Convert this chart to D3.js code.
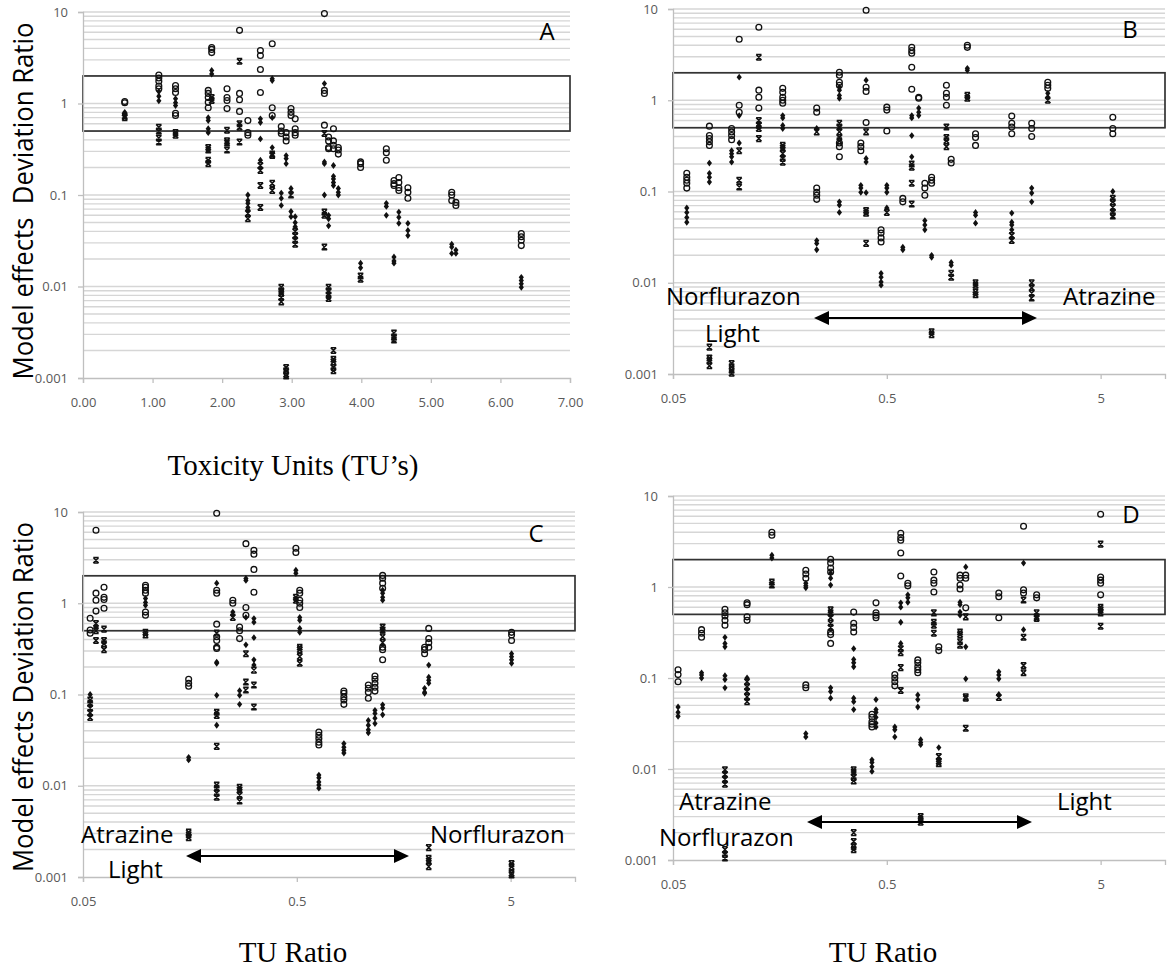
<!DOCTYPE html>
<html><head><meta charset="utf-8">
<script src="https://cdn.jsdelivr.net/npm/d3@7"></script>
<style>body{margin:0;background:#fff}svg{display:block}</style>
</head><body>
<svg id="chart" width="1176" height="968"></svg>
<script>
// ---------- DATA ----------
const yTicks = [0.001, 0.01, 0.1, 1, 10];
const yTickLabels = ["0.001", "0.01", "0.1", "1", "10"];
const xTicksTU = [0, 1, 2, 3, 4, 5, 6, 7];
const xTickLabelsTU = ["0.00", "1.00", "2.00", "3.00", "4.00", "5.00", "6.00", "7.00"];
const xTicksRatio = [0.05, 0.5, 5];
const xTickLabelsRatio = ["0.05", "0.5", "5"];
const bandLimits = [0.5, 2];

// each entry: [x, [y values]]
const circlesA = [[0.60,[1.05,1.02]],[1.09,[2.05,1.9,1.75,1.55,1.45]],[1.33,[1.57,1.45,1.32,0.78,0.74]],[1.80,[1.39,1.29,1.16,1.03,0.90]],[1.85,[4.1,3.9,3.6]],[2.07,[1.45,1.16,1.08,0.88]],[2.25,[6.3,1.29,1.1,0.82]],[2.37,[0.65,0.48,0.45]],[2.55,[3.8,3.35,2.35,1.32]],[2.72,[4.5,0.9,0.74]],[2.85,[0.56,0.5,0.47]],[2.92,[0.48,0.43,0.39]],[2.99,[0.88,0.8,0.74]],[3.05,[0.68,0.53,0.48,0.45]],[3.47,[9.6,1.39,1.29,0.58]],[3.53,[0.43,0.39,0.33,0.32]],[3.60,[0.53,0.39,0.35,0.32]],[3.67,[0.33,0.31,0.28]],[3.99,[0.23,0.22,0.20]],[4.36,[0.32,0.29,0.24]],[4.47,[0.144,0.133,0.127]],[4.54,[0.155,0.137,0.12,0.112]],[4.67,[0.12,0.107,0.092]],[5.30,[0.107,0.1,0.087]],[5.36,[0.083,0.077]],[6.30,[0.038,0.035,0.032,0.028]]];
const diamondsA = [[0.60,[0.80,0.76]],[1.09,[1.35,1.2,1.07]],[1.33,[1.13,1.02,0.95]],[1.80,[0.70,0.65,0.53,0.48]],[1.85,[2.3,2.1]],[2.25,[0.58]],[2.37,[0.1,0.087,0.081,0.073,0.068]],[2.55,[0.68,0.62,0.41,0.24]],[2.72,[1.87,1.78,0.7,0.33]],[2.85,[0.105,0.092,0.077]],[2.92,[0.27,0.25,0.22]],[2.99,[0.118,0.107,0.066,0.058]],[3.05,[0.058,0.05,0.045]],[3.47,[1.65,0.23,0.22,0.1]],[3.53,[0.06,0.055,0.046]],[3.60,[0.21,0.16,0.15,0.137,0.127]],[3.67,[0.118,0.107,0.10]],[3.99,[0.018,0.016]],[4.36,[0.081,0.075,0.06]],[4.47,[0.021,0.019,0.018]],[4.54,[0.065,0.057,0.049]],[4.67,[0.049,0.041,0.036]],[5.30,[0.029,0.027,0.023]],[5.36,[0.025,0.023]],[6.30,[0.0126,0.0116,0.0107,0.0098]]];
const starsA = [[0.60,[0.73,0.70]],[1.09,[0.55,0.5,0.42,0.38]],[1.33,[0.48,0.45]],[1.80,[0.33,0.31,0.24,0.22]],[1.85,[1.16,1.08]],[2.07,[0.51,0.39,0.37,0.31]],[2.25,[2.9,0.6,0.55,0.38]],[2.37,[0.063,0.055]],[2.55,[0.21,0.185,0.127,0.073]],[2.72,[0.28,0.27,0.134,0.112]],[2.85,[0.0098,0.009,0.0084,0.0076,0.0068]],[2.92,[0.0013,0.0012,0.0011,0.00105]],[2.99,[0.10]],[3.05,[0.04,0.036,0.032,0.029]],[3.47,[0.47,0.065,0.06,0.027]],[3.53,[0.0098,0.009,0.008,0.0074]],[3.60,[0.002,0.0016,0.0015,0.0013,0.0012]],[3.99,[0.013,0.012]],[4.47,[0.0031,0.0028,0.0026]]];

const circlesB = [[0.058,[0.158,0.143,0.133,0.123,0.109]],[0.074,[0.52,0.41,0.38,0.35,0.32]],[0.094,[0.49,0.45,0.41,0.37]],[0.102,[4.66,0.88,0.74]],[0.126,[6.3,1.29,1.08,0.82]],[0.163,[1.35,1.22,1.08,1.0,0.93]],[0.235,[0.82,0.74,0.109,0.098,0.091,0.082]],[0.30,[2.03,1.88,1.57,1.46,0.34,0.31,0.24]],[0.378,[0.34,0.31,0.28]],[0.40,[9.7,1.39,1.25,0.57]],[0.47,[0.038,0.035,0.031,0.028]],[0.50,[0.84,0.78,0.46]],[0.594,[0.084,0.077]],[0.654,[3.8,3.5,3.27,2.3,1.32]],[0.705,[1.08,1.05]],[0.753,[0.123,0.109,0.091]],[0.81,[0.143,0.133,0.123]],[0.95,[1.46,1.19,1.08,0.88]],[1.0,[0.225,0.205]],[1.19,[4.0,3.8]],[1.3,[0.43,0.39,0.32]],[1.92,[0.67,0.56,0.51,0.43]],[2.38,[0.56,0.49,0.40]],[2.83,[1.57,1.46,1.35]],[5.7,[0.65,0.49,0.43]]];
const diamondsB = [[0.058,[0.066,0.059,0.052,0.046]],[0.074,[0.205,0.158,0.143,0.127]],[0.094,[0.28,0.26,0.24,0.21]],[0.102,[1.79,0.68,0.34]],[0.163,[0.68,0.64,0.53,0.49]],[0.235,[0.49,0.029,0.027,0.023]],[0.30,[1.39,1.29,1.13,1.05,0.077,0.071,0.059]],[0.378,[0.117,0.109,0.098]],[0.40,[1.66,0.23,0.21,0.097]],[0.47,[0.0127,0.0115,0.0102,0.0094]],[0.50,[0.117,0.109,0.098,0.066]],[0.594,[0.0245,0.023]],[0.654,[0.68,0.64,0.41,0.24]],[0.705,[0.82,0.74,0.68]],[0.753,[0.048,0.043,0.038]],[0.81,[0.02,0.019]],[1.0,[0.0167,0.0156]],[1.19,[2.24,2.13]],[1.3,[0.059,0.055,0.045]],[1.92,[0.058,0.046,0.043,0.038]],[2.38,[0.109,0.096,0.077]],[2.83,[1.19,1.08]],[5.7,[0.1]]];
const starsB = [[0.074,[0.00197,0.0015,0.0014,0.00123]],[0.094,[0.0013,0.0012,0.0011,0.00102]],[0.102,[0.28,0.133,0.112]],[0.126,[2.96,0.6,0.53,0.49,0.38]],[0.163,[0.32,0.30,0.26,0.23,0.21]],[0.235,[0.45]],[0.30,[0.56,0.51,0.45,0.39,0.36]],[0.40,[0.45,0.062,0.058,0.027]],[0.50,[0.059]],[0.654,[0.2,0.185,0.123,0.073]],[0.81,[0.0029,0.0027]],[0.95,[0.51,0.39,0.36,0.31]],[1.0,[0.0127,0.0115]],[1.19,[1.13,1.05]],[1.3,[0.01,0.0094,0.0079,0.0074]],[1.92,[0.033,0.029]],[2.38,[0.01,0.0088,0.0077,0.0068]],[2.83,[1.0]],[5.7,[0.084,0.077,0.067,0.059,0.054]]];

const circlesC = [[0.054,[0.685,0.51,0.47]],[0.0575,[6.3,1.29,1.08,0.82]],[0.0627,[1.5,1.16,1.1,0.88]],[0.098,[1.57,1.5,1.39,1.29,0.8,0.74]],[0.156,[0.147,0.133,0.123]],[0.211,[9.7,1.39,1.29,0.59,0.43,0.39,0.33,0.32]],[0.251,[1.08,1.0]],[0.27,[0.55,0.5,0.41]],[0.289,[4.5,0.9,0.74]],[0.315,[3.8,3.45,2.35,1.32]],[0.495,[4.0,3.6]],[0.516,[1.39,1.29,1.08,1.0,0.9]],[0.634,[0.0387,0.0358,0.033,0.030,0.028]],[0.83,[0.109,0.103,0.094,0.087,0.078]],[1.08,[0.127,0.117,0.106,0.091]],[1.16,[0.159,0.147,0.133,0.12,0.109]],[1.26,[2.02,1.88,1.66,1.46,0.33,0.31,0.24]],[1.98,[0.33,0.31,0.28]],[2.07,[0.53,0.41,0.37,0.33]],[5.05,[0.48,0.45,0.39]]];
const diamondsC = [[0.054,[0.1]],[0.0575,[0.55]],[0.098,[1.13,1.02,0.95]],[0.156,[0.0205,0.0192]],[0.211,[1.66,0.226,0.22,0.098,0.046]],[0.251,[0.8,0.74]],[0.27,[0.11,0.098,0.078]],[0.289,[1.87,1.78,0.7,0.35]],[0.315,[0.68,0.62,0.42,0.24,0.21]],[0.495,[2.3,2.13]],[0.516,[0.7,0.65,0.53,0.48]],[0.634,[0.0131,0.0122,0.011,0.0102,0.0094]],[0.83,[0.029,0.0265,0.0245,0.0228]],[1.08,[0.052,0.046,0.041,0.038]],[1.16,[0.067,0.062,0.055,0.048]],[1.26,[1.39,1.29,1.16,1.08,0.077,0.071,0.06]],[1.98,[0.117,0.106,0.103]],[2.07,[0.21,0.155,0.143,0.133]],[5.05,[0.28,0.26,0.24,0.22]]];
const starsC = [[0.054,[0.087,0.08,0.071,0.063,0.056]],[0.0575,[2.96,0.6,0.5,0.39]],[0.0627,[0.52,0.39,0.36,0.31]],[0.098,[0.48,0.45]],[0.156,[0.0031,0.0029,0.0027]],[0.211,[0.47,0.064,0.059,0.027,0.0102,0.0094,0.0083,0.0075]],[0.251,[0.7]],[0.27,[0.0096,0.009,0.0079,0.0068]],[0.289,[0.28,0.137,0.112]],[0.315,[0.185,0.127,0.073]],[0.495,[1.16,1.08]],[0.516,[0.33,0.31,0.26,0.22]],[1.26,[0.55,0.51,0.43,0.37]],[2.07,[0.0021,0.0016,0.0015,0.0013]],[5.05,[0.0014,0.0013,0.0011,0.00105]]];

const circlesD = [[0.0528,[0.123,0.109,0.091]],[0.068,[0.34,0.31,0.28]],[0.0875,[0.57,0.52,0.48,0.43,0.38]],[0.111,[0.67,0.64,0.47,0.43]],[0.145,[4.0,3.7]],[0.209,[1.53,1.39,1.25,0.084,0.078]],[0.273,[2.02,1.83,1.62,1.46,0.32,0.30,0.24]],[0.35,[0.53,0.4,0.36,0.32]],[0.426,[0.04,0.037,0.033,0.031,0.029]],[0.445,[0.67,0.52,0.49,0.46]],[0.545,[0.109,0.1,0.091,0.082]],[0.581,[3.9,3.5,3.27,2.36,1.32]],[0.627,[1.1,1.03]],[0.698,[0.158,0.147,0.133,0.123,0.114]],[0.83,[1.46,1.19,1.1,0.88]],[0.875,[0.22,0.2]],[1.1,[1.35,1.25,1.05,0.95]],[1.17,[1.35,1.25,0.59]],[1.67,[0.86,0.78,0.46]],[2.18,[4.66,0.93,0.86]],[2.51,[0.82,0.76]],[5.0,[6.3,1.29,1.19,1.1,0.82]]];
const diamondsD = [[0.0528,[0.048,0.042,0.038]],[0.068,[0.114,0.108,0.1]],[0.0875,[0.28,0.24,0.22,0.106,0.096,0.078]],[0.111,[0.1]],[0.145,[2.24,2.08]],[0.209,[1.1,1.03,0.98,0.0245,0.0225]],[0.273,[1.42,1.25,1.05,0.078,0.071,0.06]],[0.35,[0.21,0.16,0.147,0.133,0.06,0.055,0.045]],[0.426,[0.0126,0.0118,0.0106,0.0094]],[0.445,[0.058,0.045,0.042,0.037,0.032,0.029]],[0.545,[0.029,0.027,0.0225]],[0.581,[0.67,0.6,0.41,0.24]],[0.627,[0.82,0.76,0.68]],[0.698,[0.065,0.058,0.048]],[0.72,[0.021,0.0195,0.0185]],[0.875,[0.0172]],[1.1,[0.68,0.64,0.53,0.49]],[1.17,[1.66,0.22,0.098]],[1.67,[0.117,0.108,0.098,0.066]],[2.18,[1.83,0.34]],[5.0,[0.55]]];
const starsD = [[0.0875,[0.0098,0.0087,0.0077,0.0068,0.0013,0.00115,0.00105]],[0.111,[0.091,0.08,0.071,0.062,0.055]],[0.145,[1.13,1.05]],[0.273,[0.56,0.52,0.46,0.40,0.36]],[0.35,[0.0098,0.0092,0.0081,0.0074,0.002,0.0016,0.0014,0.0013]],[0.581,[0.21,0.19,0.13,0.073]],[0.72,[0.003,0.0028,0.0026]],[0.83,[0.52,0.41,0.38,0.31]],[0.875,[0.0137,0.0121,0.0114]],[1.1,[0.32,0.3,0.25,0.23]],[1.17,[0.47,0.062,0.06,0.028]],[1.67,[0.061]],[2.18,[0.72,0.28,0.137,0.114]],[2.51,[0.52,0.47,0.45]],[5.0,[2.96,0.6,0.56,0.52,0.37]]];

// ---------- LAYOUT ----------
const panels = [
  {id:"A", left:83, right:570, top:12, bottom:378, log:false, xDomain:[0,7], xTicks:xTicksTU, xLabels:xTickLabelsTU,
   circles:circlesA, diamonds:diamondsA, stars:starsA, letter:[547,40],
   yTitle:"Model effects  Deviation Ratio", yTitleLen:357, yTitleC:201,
   xTitle:"Toxicity Units (TU\u2019s)", xTitlePos:[293,475], notes:[], arrow:null},
  {id:"B", left:673, right:1165, top:9, bottom:374, log:true, xDomain:[0.05,10], xTicks:xTicksRatio, xLabels:xTickLabelsRatio,
   circles:circlesB, diamonds:diamondsB, stars:starsB, letter:[1130,38],
   notes:[["Norflurazon",666,305],["Light",705,342],["Atrazine",1063,305]], arrow:[814,1037,318]},
  {id:"C", left:83, right:575, top:512, bottom:877, log:true, xDomain:[0.05,10], xTicks:xTicksRatio, xLabels:xTickLabelsRatio,
   circles:circlesC, diamonds:diamondsC, stars:starsC, letter:[536,542],
   yTitle:"Model effects Deviation Ratio", yTitleLen:350, yTitleC:697,
   xTitle:"TU Ratio", xTitlePos:[293,962],
   notes:[["Atrazine",81,843],["Light",108,878],["Norflurazon",430,843]], arrow:[186,409,856]},
  {id:"D", left:673, right:1165, top:496, bottom:860, log:true, xDomain:[0.05,10], xTicks:xTicksRatio, xLabels:xTickLabelsRatio,
   circles:circlesD, diamonds:diamondsD, stars:starsD, letter:[1131,523],
   xTitle:"TU Ratio", xTitlePos:[883,962],
   notes:[["Atrazine",679,810],["Norflurazon",659,846],["Light",1057,810]], arrow:[807,1032,822]}
];

const svg = d3.select("#chart");
const flat = arr => arr.flatMap(([x, ys]) => ys.map(y => ({x, y})));
const diamondPath = "M0,-3.4L2.6,0L0,3.4L-2.6,0Z";
const starPath = "M-2.7,-2.8L2.7,2.8M-2.7,2.8L2.7,-2.8M-2.7,-2.8L2.7,-2.8M-2.7,2.8L2.7,2.8";

panels.forEach(p => {
  const g = svg.append("g");
  const x = (p.log ? d3.scaleLog() : d3.scaleLinear()).domain(p.xDomain).range([p.left, p.right]);
  const y = d3.scaleLog().domain([0.001, 10]).range([p.bottom, p.top]);

  // grid lines (log minor + major)
  const grid = [];
  [0.001, 0.01, 0.1, 1].forEach(d => { for (let m = 1; m <= 9; m++) grid.push(d * m); });
  grid.push(10);
  g.append("g").selectAll("line").data(grid.filter(v => v > 0.0011)).join("line")
    .attr("x1", p.left).attr("x2", p.right)
    .attr("y1", d => y(d)).attr("y2", d => y(d))
    .attr("stroke", "#d6d6d6").attr("stroke-width", 1.4);

  // band box
  g.append("rect")
    .attr("x", x(p.xDomain[0])).attr("width", x(p.xDomain[1]) - x(p.xDomain[0]))
    .attr("y", y(bandLimits[1])).attr("height", y(bandLimits[0]) - y(bandLimits[1]))
    .attr("fill", "none").attr("stroke", "#333").attr("stroke-width", 1.7);

  // axes
  const ya = g.append("g").attr("transform", `translate(${p.left},0)`)
    .call(d3.axisLeft(y).tickValues(yTicks).tickFormat((d, i) => yTickLabels[i]).tickSize(5).tickPadding(10));
  const xa = g.append("g").attr("transform", `translate(0,${p.bottom})`)
    .call(d3.axisBottom(x).tickValues(p.xTicks).tickFormat((d, i) => p.xLabels[i]).tickSize(5).tickPadding(15));
  [ya, xa].forEach(a => {
    a.select(".domain").attr("stroke", "#bfbfbf").attr("stroke-width", 1.3);
    a.selectAll(".tick line").attr("stroke", "#bfbfbf").attr("stroke-width", 1.3);
    a.selectAll(".tick text").attr("fill", "#595959").style("font-family", "'Open Sans', sans-serif").style("font-size", "13px");
  });

  // markers
  const mg = g.append("g");
  mg.selectAll("circle").data(flat(p.circles)).join("circle")
    .attr("cx", d => x(d.x)).attr("cy", d => y(d.y)).attr("r", 2.9)
    .attr("fill", "none").attr("stroke", "#111").attr("stroke-width", 1.3);
  mg.selectAll("path.dia").data(flat(p.diamonds)).join("path").attr("class", "dia")
    .attr("transform", d => `translate(${x(d.x)},${y(d.y)})`).attr("d", diamondPath).attr("fill", "#111");
  mg.selectAll("path.star").data(flat(p.stars)).join("path").attr("class", "star")
    .attr("transform", d => `translate(${x(d.x)},${y(d.y)})`).attr("d", starPath)
    .attr("fill", "none").attr("stroke", "#111").attr("stroke-width", 1.5);

  // panel letter
  g.append("text").attr("x", p.letter[0]).attr("y", p.letter[1]).attr("text-anchor", "middle")
    .style("font-family", "'Open Sans', sans-serif").style("font-size", "24px").text(p.id);

  // annotations
  p.notes.forEach(([t, tx, ty]) => {
    g.append("text").attr("x", tx).attr("y", ty)
      .style("font-family", "'Open Sans', sans-serif").style("font-size", "24px").attr("fill", "#000").text(t);
  });
  if (p.arrow) {
    const [x1, x2, ay] = p.arrow, hl = 15, hh = 7;
    g.append("line").attr("x1", x1 + hl - 2).attr("x2", x2 - hl + 2).attr("y1", ay).attr("y2", ay)
      .attr("stroke", "#000").attr("stroke-width", 2);
    g.append("path").attr("d", `M${x1},${ay}L${x1 + hl},${ay - hh}L${x1 + hl},${ay + hh}Z`).attr("fill", "#000");
    g.append("path").attr("d", `M${x2},${ay}L${x2 - hl},${ay - hh}L${x2 - hl},${ay + hh}Z`).attr("fill", "#000");
  }

  // titles
  if (p.yTitle) {
    g.append("text").attr("transform", `translate(33,${p.yTitleC}) rotate(-90)`).attr("text-anchor", "middle")
      .attr("textLength", p.yTitleLen).attr("lengthAdjust", "spacingAndGlyphs")
      .style("font-family", "'Open Sans', sans-serif").style("font-size", "27px").style("white-space", "pre")
      .attr("xml:space", "preserve").text(p.yTitle);
  }
  if (p.xTitle) {
    g.append("text").attr("x", p.xTitlePos[0]).attr("y", p.xTitlePos[1]).attr("text-anchor", "middle")
      .style("font-family", "'Liberation Serif', 'Times New Roman', serif").style("font-size", "29px").text(p.xTitle);
  }
});
</script>
</body></html>
